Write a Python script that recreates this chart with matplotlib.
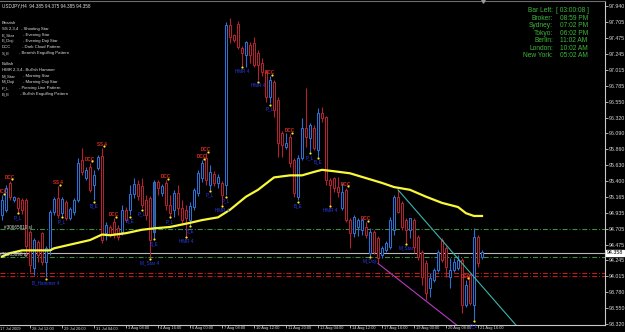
import numpy as np
import matplotlib.pyplot as plt
from matplotlib.patches import Rectangle
from matplotlib.transforms import offset_copy, blended_transform_factory

plt.rcParams['font.family'] = ['Liberation Sans', 'DejaVu Sans']
plt.rcParams['lines.scale_dashes'] = False

# USDJPY H4 candles (bar 0 = leftmost visible)
opens = [94.90, 94.98, 95.37, 95.12, 95.15, 95.12, 95.12, 94.66, 94.13, 94.51,
         94.64, 94.22, 94.39, 94.95, 95.15, 94.93, 95.09, 94.86, 94.95, 95.12,
         95.70, 95.44, 95.60, 95.34, 95.59, 95.76, 94.64, 94.73, 94.80, 94.71,
         94.66, 94.98, 94.98, 95.21, 95.35, 95.32, 95.12, 95.15, 94.66, 95.38,
         95.22, 95.37, 95.05, 94.98, 95.22, 95.00, 94.98, 94.83, 95.02, 95.22,
         95.44, 95.73, 95.34, 95.50, 95.37, 95.37, 95.34, 97.66, 97.52, 97.68,
         97.33, 97.23, 97.37, 97.40, 97.26, 97.11, 96.98, 96.62, 96.84, 96.57,
         96.09, 95.89, 96.04, 95.70, 95.17, 95.73, 96.17, 96.02, 96.17, 95.85,
         96.39, 96.33, 95.41, 95.44, 95.31, 95.00, 95.27, 94.83, 94.64, 94.73,
         94.69, 94.73, 94.35, 94.66, 94.57, 94.32, 94.39, 94.44, 94.69, 95.17,
         95.08, 94.83, 94.69, 94.83, 94.58, 94.37, 94.21, 93.84, 93.96, 94.10,
         94.54, 94.42, 94.00, 94.10, 94.13, 94.25, 93.60, 94.03, 93.60, 94.58,
         94.30]
highs = [95.19, 95.34, 95.40, 95.18, 95.17, 95.15, 95.15, 94.69, 94.57, 94.54,
         94.66, 94.45, 94.98, 95.17, 95.32, 95.17, 95.12, 95.02, 95.15, 95.73,
         95.88, 95.60, 95.66, 95.56, 95.78, 95.88, 94.80, 94.76, 94.86, 94.76,
         95.05, 95.02, 95.34, 95.44, 95.41, 95.44, 95.19, 95.18, 95.41, 95.41,
         95.35, 95.41, 95.19, 95.27, 95.34, 95.12, 95.05, 95.09, 95.30, 95.56,
         95.70, 95.80, 95.63, 95.54, 95.50, 95.40, 97.71, 97.77, 97.53, 97.72,
         97.36, 97.43, 97.42, 97.49, 97.30, 97.18, 97.01, 96.92, 96.86, 96.62,
         96.12, 96.09, 96.08, 95.73, 95.78, 96.31, 96.75, 96.24, 96.21, 96.46,
         96.47, 96.34, 95.44, 95.46, 95.46, 95.37, 95.30, 94.86, 94.90, 94.86,
         94.86, 94.80, 94.71, 94.69, 94.60, 94.45, 94.53, 94.87, 95.19, 95.27,
         95.11, 94.86, 94.86, 94.86, 94.61, 94.39, 94.25, 94.06, 94.13, 94.39,
         94.57, 94.45, 94.28, 94.28, 94.32, 94.28, 93.96, 94.06, 94.71, 94.61,
         94.39]
lows = [94.83, 94.95, 95.12, 95.09, 94.95, 94.92, 94.29, 94.08, 94.03, 94.22,
        94.18, 94.00, 94.32, 94.90, 94.86, 94.89, 94.83, 94.83, 94.90, 95.09,
        95.48, 95.41, 95.24, 95.12, 95.56, 94.50, 94.54, 94.58, 94.57, 94.54,
        94.61, 94.80, 94.90, 95.15, 95.12, 95.00, 94.83, 94.29, 94.57, 95.19,
        95.18, 94.98, 94.89, 94.87, 94.90, 94.76, 94.60, 94.76, 94.98, 95.18,
        95.38, 95.34, 95.27, 95.32, 95.30, 95.05, 95.19, 97.40, 97.42, 97.32,
        97.07, 97.05, 97.11, 97.05, 96.86, 96.92, 96.55, 96.53, 96.33, 95.75,
        95.75, 95.86, 95.60, 95.17, 95.12, 95.70, 95.89, 95.82, 95.85, 95.75,
        96.25, 95.34, 95.05, 95.24, 95.17, 94.98, 94.80, 94.42, 94.58, 94.60,
        94.61, 94.57, 94.31, 94.34, 94.21, 94.28, 94.37, 94.41, 94.61, 94.93,
        94.69, 94.50, 94.57, 94.35, 94.25, 93.89, 93.67, 93.71, 93.93, 94.08,
        94.22, 94.00, 93.84, 94.08, 94.10, 93.48, 93.57, 93.60, 93.38, 94.15,
        94.27]
closes = [95.12, 95.30, 95.17, 95.17, 95.00, 94.98, 94.45, 94.18, 94.54, 94.32,
          94.22, 94.42, 94.95, 95.14, 94.90, 95.14, 94.86, 94.99, 95.12, 95.66,
          95.53, 95.56, 95.27, 95.48, 95.75, 94.54, 94.76, 94.61, 94.64, 94.58,
          94.98, 94.83, 95.21, 95.35, 95.18, 95.05, 94.90, 94.54, 95.38, 95.30,
          95.32, 95.05, 94.93, 95.22, 95.00, 94.83, 94.86, 95.03, 95.27, 95.51,
          95.66, 95.41, 95.53, 95.37, 95.46, 95.19, 97.66, 97.49, 97.45, 97.34,
          97.26, 97.42, 97.23, 97.08, 97.08, 96.98, 96.62, 96.86, 96.43, 95.95,
          95.92, 95.95, 95.66, 95.22, 95.73, 96.17, 96.04, 96.21, 95.88, 96.39,
          96.31, 95.41, 95.34, 95.30, 95.24, 95.24, 94.83, 94.64, 94.87, 94.83,
          94.83, 94.61, 94.66, 94.37, 94.28, 94.42, 94.50, 94.83, 95.17, 94.95,
          94.73, 94.69, 94.86, 94.44, 94.29, 94.00, 93.77, 93.99, 94.10, 94.37,
          94.25, 94.15, 94.10, 94.22, 94.25, 93.60, 93.89, 93.62, 94.58, 94.21,
          94.36]

# moving average (yellow)
ma_bars = [0, 2, 5, 8, 12, 13, 19, 22, 25, 27, 31, 35, 38, 42, 47, 50, 54, 57,
           61, 64, 68, 72, 75, 78, 80, 83, 87, 91, 95, 98, 102, 106, 110, 114,
           116, 118, 120]
ma_vals = [94.30, 94.35, 94.39, 94.39, 94.39, 94.42, 94.50, 94.54, 94.62, 94.61,
           94.64, 94.69, 94.71, 94.73, 94.79, 94.83, 94.87, 94.98, 95.17, 95.27,
           95.45, 95.48, 95.48, 95.53, 95.56, 95.54, 95.51, 95.44, 95.37, 95.31,
           95.27, 95.17, 95.08, 95.02, 94.93, 94.89, 94.89]

# trend lines
cyan_bars = [99, 129]
cyan_prices = [95.27, 93.27]
magenta_bars = [94, 114]
magenta_prices = [94.20, 93.29]

# order lines
green_levels = [94.70, 94.29]
red_levels = [94.06, 94.02]
bid = 94.358

# pattern labels
bull_bars = [4, 11, 15, 23, 32, 35, 37, 38, 42, 46, 47, 52, 55, 56, 60, 64, 67,
             74, 77, 79, 82, 92, 101, 118]
bull_text = ['P_L', 'B_Hammer 4', 'P_L', 'B_E', 'B_E', 'P_L', 'M_Star 4', 'B_E',
             'P_L', 'HMR 4', 'B_E', 'P_L', 'HMR 4', 'P_L', 'HMR 4', 'HMR 4',
             'P_L', 'B_E', 'P_L', 'B_E', 'HMR 4', 'M_Doji', 'M_Star', 'P_L']
bear_bars = [0, 2, 14, 22, 25, 28, 41, 50, 51, 67, 72, 86, 91, 116]
bear_text = ['DCC', 'DCC', 'SS 4', 'DCC', 'SS 4', 'DCC', 'DCC', 'DCC', 'DCC',
             'DCC', 'DCC', 'DCC', 'DCC', 'DCC']

price_ticks = [97.940, 97.705, 97.475, 97.245, 97.015, 96.785, 96.550, 96.320,
               96.090, 95.860, 95.630, 95.400, 95.165, 94.935, 94.705, 94.475,
               94.245, 94.015, 93.780, 93.550, 93.320]
date_bars = [7, 15, 23, 31, 39, 47, 55, 63, 71, 79, 87, 95, 103, 111, 119]
date_labels = ['28 Jul 12:00', '29 Jul 20:00', '31 Jul 04:00', '3 Aug 08:00',
               '4 Aug 16:00', '6 Aug 00:00', '7 Aug 08:00', '10 Aug 12:00',
               '11 Aug 20:00', '13 Aug 04:00', '14 Aug 12:00', '17 Aug 16:00',
               '19 Aug 00:00', '20 Aug 08:00', '21 Aug 16:00']

legend_bear = [('SS 2,3,4', '- Shooting Star'), ('E_Star', '- Evening Star'),
               ('E_Doji', '- Evening Doji Star'), ('DCC', '- Dark Cloud Pattern'),
               ('S_E', '- Bearish Engulfing Pattern')]
legend_bull = [('HMR 2,3,4', '- Bullish Hammer'), ('M_Star', '- Morning Star'),
               ('M_Doji', '- Morning Doji Star'), ('P_L', '- Piercing Line Pattern'),
               ('B_E', '- Bullish Engulfing Pattern')]
clock_names = ['Bar Left:', 'Broker:', 'Sydney:', 'Tokyo:', 'Berlin:', 'London:', 'New York:']
clock_values = ['[ 03:00:08 ]', '08:59 PM', '07:02 PM', '06:02 PM', '11:02 AM', '10:02 AM', '05:02 AM']

W, H = 625, 332
fig = plt.figure(figsize=(W / 100, H / 100), dpi=100, facecolor='black')
ax = fig.add_axes([0, 7 / H, 605 / W, 324 / H])
ax.set_facecolor('black')
ax.set_xlim(-0.5, 150.75)
ax.set_ylim(93.306, 98.013)

bull_col = '#2f6fd0'
bear_col = '#b02432'
for i in range(len(opens)):
    o, h, l, c = opens[i], highs[i], lows[i], closes[i]
    col = bull_col if c >= o else bear_col
    ax.vlines(i, l, h, color=col, lw=0.8, zorder=2)
    face = '#34597e' if i == 38 else 'black'
    ax.add_patch(Rectangle((i - 0.32, min(o, c)), 0.64, max(abs(c - o), 0.004),
                           facecolor=face, edgecolor=col, lw=0.75, zorder=3))

ax.plot(ma_bars, ma_vals, color='#f8f838', lw=1.6, zorder=5)
ax.plot(cyan_bars, cyan_prices, color='#3bb5ad', lw=0.8, zorder=4)
ax.plot(magenta_bars, magenta_prices, color='#b83cc0', lw=0.8, zorder=4)

dashdot = (0, (3.6, 1.4, 0.7, 1.4))
for lv in green_levels:
    ax.axhline(lv, color='#3d8f3d', lw=0.8, ls=dashdot, zorder=1)
for lv in red_levels:
    ax.axhline(lv, color='#c01c1c', lw=0.8, ls=dashdot, zorder=1)
ax.axhline(bid, color='#b8b8b8', lw=0.8, zorder=1)

px = lambda dx, dy: offset_copy(ax.transData, fig=fig, x=dx, y=dy, units='dots')
for b, t in zip(bull_bars, bull_text):
    ax.plot(b, lows[b], marker='o', ms=1.6, color='#ffe820', mec='none', zorder=6,
            transform=px(0, -1.5))
    ax.text(b, lows[b], t, transform=px(0, -5.5), color='#2a3cf0', fontsize=3.3,
            ha='center', va='center', zorder=6)
for b, t in zip(bear_bars, bear_text):
    ax.text(b, highs[b], t, transform=px(1 if b == 0 else 0, 3.5), color='#e02a20',
            fontsize=3.3, fontweight='bold', ha='center', va='center', zorder=6)
    ax.plot(b, highs[b], marker='o', ms=1.6, color='#ffe820', mec='none', zorder=7,
            transform=px(2, 1.5))

# order labels on the left
ax.text(0.5, green_levels[0], '#30665810 sl', transform=px(0, 1.5), color='#d8d8d8',
        fontsize=3.3, va='center', ha='left', zorder=6)
ax.text(-0.8, green_levels[1], '#30665898 tp', transform=px(0, 3), color='#d8d8d8',
        fontsize=3.3, va='center', ha='left', zorder=6)

# axes styling
ax.spines['left'].set_visible(False)
ax.spines['top'].set_color('#6e6e6e')
ax.spines['right'].set_color('#c8c8c8')
ax.spines['bottom'].set_color('#c8c8c8')
for s in ['top', 'right', 'bottom']:
    ax.spines[s].set_linewidth(0.8)

ax.yaxis.tick_right()
ax.set_yticks(price_ticks)
ax.set_yticklabels(['%.3f' % v for v in price_ticks])
ax.tick_params(axis='y', colors='#c8c8c8', labelcolor='#d8d8d8', labelsize=3.8,
               length=1.8, width=0.6, pad=0.8)
ax.set_xticks(date_bars)
ax.tick_params(axis='x', colors='#c8c8c8', length=2.2, width=0.6, labelbottom=False)

bt = blended_transform_factory(ax.transData, ax.transAxes)
for b, t in zip(date_bars, date_labels):
    ax.text(b, 0, t, transform=offset_copy(bt, fig=fig, x=1.5, y=-1.5, units='dots'),
            color='#d8d8d8', fontsize=2.9, ha='left', va='top', clip_on=False)
fig.text(0.5 / W, 1 - 327.5 / H, '17 Jul 2009', color='#d8d8d8', fontsize=2.9,
         ha='left', va='top')

# current price box
rt = blended_transform_factory(ax.transAxes, ax.transData)
ax.text(1.0, bid, '%.3f' % bid, transform=offset_copy(rt, fig=fig, x=2, y=0, units='dots'),
        color='black', fontsize=3.8, ha='left', va='center', clip_on=False,
        bbox=dict(facecolor='white', edgecolor='white', pad=0.4))

# chart shift marker
ax.plot(120.25, 98.013, marker='v', ms=2.5, color='#9a9a9a', clip_on=False, zorder=8)

# header and pattern legend
def ftxt(x, y, s, **kw):
    fig.text(x / W, 1 - y / H, s, va='center', **kw)

lg = dict(color='#e0e0e0', fontsize=3.1)
ftxt(2, 6, 'USDJPY,H4  94.385 94.375 94.385 94.358', color='#e0e0e0', fontsize=3.3)
ftxt(2, 23, 'Bearish', **lg)
bear_dash_x = [20.7, 22.7, 22.7, 21.7, 19.3]
bull_dash_x = [22.6, 22.7, 22.7, 19.3, 20.0]
for k, (a, b) in enumerate(legend_bear):
    ftxt(2, 29 + 6 * k, a, **lg)
    ftxt(bear_dash_x[k], 29 + 6 * k, b, **lg)
ftxt(2, 64, 'Bullish', **lg)
for k, (a, b) in enumerate(legend_bull):
    ftxt(2, 70 + 6 * k, a, **lg)
    ftxt(bull_dash_x[k], 70 + 6 * k, b, **lg)

# session clocks
for k, (n, v) in enumerate(zip(clock_names, clock_values)):
    ftxt(553, 11 + 7.4 * k, n, color='#3cb83c', fontsize=4.8, ha='right')
    ftxt(556 if k == 0 else 560, 11 + 7.4 * k, v, color='#3cb83c', fontsize=4.8, ha='left')

fig.savefig('out.png', dpi=100, facecolor='black')
